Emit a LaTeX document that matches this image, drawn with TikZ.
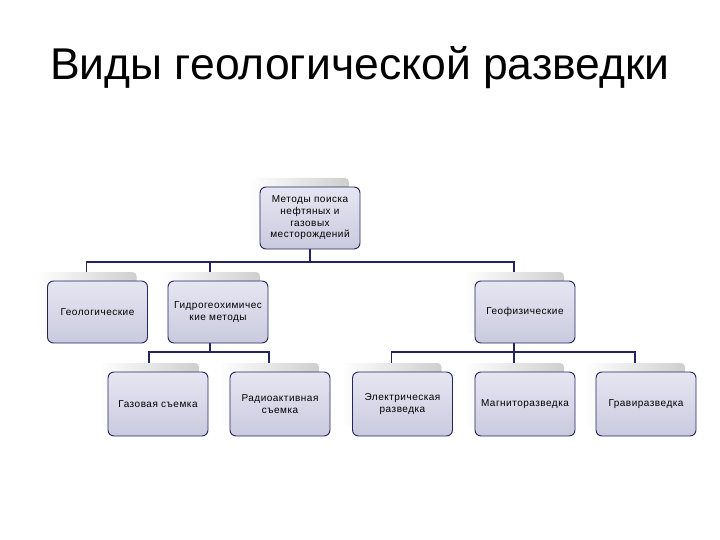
\documentclass[tikz,border=0pt]{standalone}
\usepackage{fontspec}
\setmainfont{Liberation Sans}
\newfontfamily\boxfont[LetterSpace=5]{Liberation Sans}
\pgfdeclarelayer{shadowlayer}
\pgfdeclarelayer{linelayer}
\pgfsetlayers{shadowlayer,linelayer,main}
\definecolor{navy}{HTML}{24245E}
\definecolor{boxtop}{HTML}{E6E6F2}
\definecolor{boxbot}{HTML}{CACADF}
\begin{document}
\begin{tikzpicture}[x=1pt,y=-1pt,
  box/.style={draw=navy, line width=0.9pt, rounded corners=6pt, top color=boxtop, bottom color=boxbot,
    minimum width=100pt, minimum height=62pt, align=center, inner sep=1pt,
    font=\boxfont\fontsize{10}{11.7}\selectfont},
  shadowbox/.style={rounded corners=4pt, left color=white, right color=black!19,
    minimum width=100pt, minimum height=62pt, inner sep=0pt},
  conn/.style={draw=navy, line width=1.8pt}]
\useasboundingbox (0,0) rectangle (720,540);
\node (title) at (360,68) {\fontsize{44.5}{50}\selectfont Виды геологической разведки};
% front boxes
\node[box] (top) at (310,218) {Методы поиска\\нефтяных и\\газовых\\месторождений};
\node[box] (geol) at (97.5,312) {Геологические};
\node[box] (hydro) at (218,312) {Гидрогеохимичес\\кие методы};
\node[box] (geof) at (525,312) {Геофизические};
\node[box, minimum height=64pt] (gaz) at (158,404) {Газовая съемка};
\node[box, minimum height=64pt] (radio) at (280,404) {Радиоактивная\\съемка};
\node[box, minimum height=64pt] (elec) at (402.5,404) {Электрическая\\разведка};
\node[box, minimum height=64pt] (magn) at (525,404) {Магниторазведка};
\node[box, minimum height=64pt] (grav) at (646,404) {Гравиразведка};
% shadows
\begin{pgfonlayer}{shadowlayer}
\node[shadowbox] (stop) at (299,209) {};
\node[shadowbox] (sgeol) at (86.5,303) {};
\node[shadowbox] (shydro) at (210,303) {};
\node[shadowbox] (sgeof) at (514,303) {};
\node[shadowbox, minimum height=64pt] (sgaz) at (149,395) {};
\node[shadowbox, minimum height=64pt] (sradio) at (269,395) {};
\node[shadowbox, minimum height=64pt] (selec) at (391.5,395) {};
\node[shadowbox, minimum height=64pt] (smagn) at (514,395) {};
\node[shadowbox, minimum height=64pt] (sgrav) at (635,395) {};
\end{pgfonlayer}
% connectors
\begin{pgfonlayer}{linelayer}
\coordinate (bus1) at (310,262);
\draw[conn] (top.south) -- (bus1);
\draw[conn] (sgeol.north) |- (bus1);
\draw[conn] (sgeof.north) |- (bus1);
\draw[conn] (shydro.north) -- (shydro.north |- bus1);
\coordinate (bus2) at (210,352);
\draw[conn] (shydro.south) -- (bus2);
\draw[conn] (sgaz.north) |- (bus2);
\draw[conn] (sradio.north) |- (bus2);
\coordinate (bus3) at (514,352);
\draw[conn] (sgeof.south) -- (bus3);
\draw[conn] (selec.north) |- (bus3);
\draw[conn] (sgrav.north) |- (bus3);
\draw[conn] (smagn.north) -- (bus3);
\end{pgfonlayer}
\end{tikzpicture}
\end{document}
